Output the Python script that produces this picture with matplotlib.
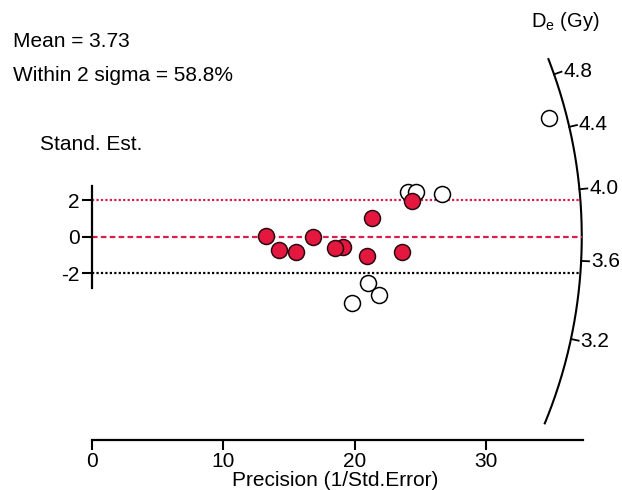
import numpy as np
import matplotlib.pyplot as plt

plt.rcParams['font.family'] = ['Liberation Sans', 'DejaVu Sans']
plt.rcParams['mathtext.fontset'] = 'custom'
plt.rcParams['mathtext.rm'] = 'Liberation Sans'
plt.rcParams['axes.unicode_minus'] = False

# Aliquots inside the 2-sigma band (precision, standardised estimate)
prec_in = [13.28, 14.26, 15.54, 16.86, 19.09, 18.51, 20.92, 21.3, 23.59, 24.4]
z_in = [0.05, -0.73, -0.84, 0.0, -0.58, -0.64, -1.05, 1.0, -0.82, 1.95]

# Aliquots outside the band
prec_out = [24.1, 24.66, 26.68, 21.04, 21.88, 19.79, 34.83]
z_out = [2.46, 2.46, 2.32, -2.55, -3.19, -3.64, 6.47]

mean_de = 3.73
arc_ticks = [3.2, 3.6, 4.0, 4.4, 4.8]
arc_range = (2.77, 4.94)
x_ticks = [0, 10, 20, 30]
y_ticks = [-2, 0, 2]

fig = plt.figure(figsize=(6.22, 4.90), dpi=100)
ax = fig.add_axes([0.1373, 0.1024, 0.855, 0.8813])
ax.set_xlim(-0.5, 40)
ax.set_ylim(-11.1, 12.5)

# screen ratio of one y unit to one x unit, so the arc is a true circle
p0 = ax.transData.transform((0, 0))
p1 = ax.transData.transform((1, 1))
r = (p1[1] - p0[1]) / (p1[0] - p0[0])
R = 37.3  # arc radius in precision units


def arc_point(de, rad=R):
    t = np.arctan(r * (np.log(de) - np.log(mean_de)))
    return rad * np.cos(t), rad * np.sin(t) / r


# De arc
de_line = np.exp(np.linspace(np.log(arc_range[0]), np.log(arc_range[1]), 200))
ax_, ay_ = arc_point(de_line)
ax.plot(ax_, ay_, color='black', lw=1.5, solid_capstyle='butt')
for de in arc_ticks:
    x0, y0 = arc_point(de, R)
    x1, y1 = arc_point(de, R + 0.6)
    ax.plot([x0, x1], [y0, y1], color='black', lw=1.3)
    xl, yl = arc_point(de, R + 0.75)
    ax.text(xl, yl, f'{de:.1f}', ha='left', va='center', fontsize=15)

# reference lines at 0 and +/-2
red = '#d81e4e'
for y, col, ls in [(2, red, (0, (1, 1))), (0, red, (0, (2.5, 1.5))), (-2, 'black', (0, (1, 1)))]:
    x_end = np.sqrt(R ** 2 - (r * y) ** 2)
    ax.plot([0, x_end], [y, y], color=col, lw=1.6, linestyle=ls)

ax.plot(prec_out, z_out, 'o', ms=11.5, mfc='white', mec='black', mew=1.1, zorder=3)
ax.plot(prec_in, z_in, 'o', ms=11.5, mfc='#e4173f', mec='#2a0a10', mew=1.1, zorder=4)

# axes styling
for s in ['top', 'right']:
    ax.spines[s].set_visible(False)
ax.spines['left'].set_position(('data', 0))
ax.spines['left'].set_bounds(-2.8, 2.75)
ax.spines['bottom'].set_bounds(0, 37.4)
for s in ['left', 'bottom']:
    ax.spines[s].set_linewidth(1.6)
ax.set_xticks(x_ticks)
ax.set_yticks(y_ticks)
ax.tick_params(direction='out', length=7, width=1.5, labelsize=15)
ax.tick_params(axis='x', pad=1.5)
ax.tick_params(axis='y', pad=2)

ax.set_xlabel('Precision (1/Std.Error)', fontsize=15)
ax.xaxis.set_label_coords(0.469, -0.073)

fig.text(12.7 / 622, 1 - 46.7 / 490, 'Mean = 3.73', fontsize=15, va='baseline')
fig.text(12.7 / 622, 1 - 81 / 490, 'Within 2 sigma = 58.8%', fontsize=15, va='baseline')
fig.text(40 / 622, 1 - 150 / 490, 'Stand. Est.', fontsize=15, va='baseline')
fig.text(531 / 622, 1 - 27 / 490, r'D$_\mathrm{e}$ (Gy)', fontsize=14.5, va='baseline')

fig.savefig('out.png', dpi=100)
